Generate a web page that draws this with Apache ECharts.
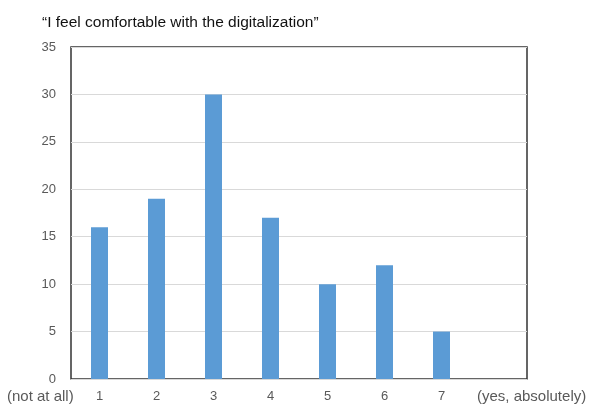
<!DOCTYPE html>
<html>
<head>
<meta charset="utf-8">
<script src="https://cdn.jsdelivr.net/npm/echarts@6/dist/echarts.min.js"></script>
<style>
  html, body { margin: 0; padding: 0; background: #fff; }
  #chart { width: 592px; height: 406px; }
</style>
</head>
<body>
<div id="chart"></div>
<script>
/* ===================== 数据 ===================== */
var categories = ['1', '2', '3', '4', '5', '6', '7', ''];
var values = [16, 19, 30, 17, 10, 12, 5, null];
var yTicks = { min: 0, max: 35, interval: 5 };
var titleText = '\u201CI feel comfortable with the digitalization\u201D';
var leftLabel = '(not at all)';
var rightLabel = '(yes, absolutely)';
/* ===================== end ===================== */

var chart = echarts.init(document.getElementById('chart'));
var font = 'Liberation Sans, Arial, sans-serif';

var option = {
    animation: false,
    textStyle: { fontFamily: font },
    title: {
        text: titleText,
        left: 37,
        top: 10,
        textStyle: { fontSize: 15.5, fontWeight: 'normal', color: '#111' }
    },
    grid: {
        left: 71,
        right: 65,
        top: 47,
        bottom: 27,
        show: true,
        borderColor: '#333',
        borderWidth: 1.5
    },
    xAxis: {
        type: 'category',
        data: categories,
        axisLine: { show: true, lineStyle: { color: '#d9d9d9', width: 1 } },
        axisTick: { show: false },
        axisLabel: { color: '#595959', fontSize: 13, margin: 11 },
        z: 10
    },
    yAxis: {
        type: 'value',
        min: yTicks.min,
        max: yTicks.max,
        interval: yTicks.interval,
        axisLine: { show: false },
        axisTick: { show: false },
        axisLabel: { color: '#595959', fontSize: 13, margin: 15, padding: [4, 0, 0, 0] },
        splitLine: { lineStyle: { color: '#d9d9d9', width: 1 } }
    },
    series: [{
        type: 'bar',
        data: values,
        barWidth: 17,
        itemStyle: { color: '#5b9bd5' }
    }],
    graphic: [
        {
            type: 'text',
            left: 7,
            top: 389,
            style: { text: leftLabel, fill: '#595959', font: '15px ' + font }
        },
        {
            type: 'text',
            left: 477,
            top: 389,
            style: { text: rightLabel, fill: '#595959', font: '15px ' + font }
        }
    ]
};

chart.setOption(option);
</script>
</body>
</html>
